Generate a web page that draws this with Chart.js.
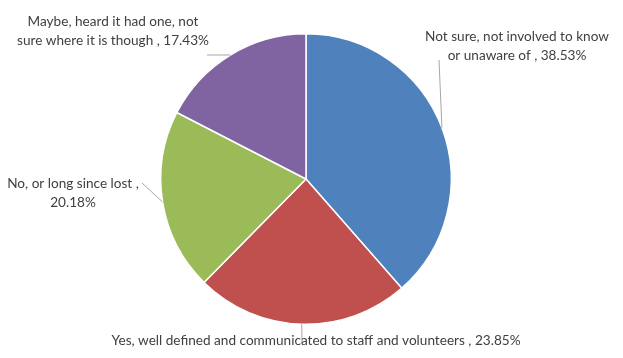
<!DOCTYPE html>
<html>
<head>
<meta charset="utf-8">
<script src="https://cdn.jsdelivr.net/npm/chart.js@4.4.1/dist/chart.umd.min.js"></script>
<style>
  html, body { margin: 0; padding: 0; background: #fff; }
  #wrap { width: 623px; height: 358px; }
</style>
</head>
<body>
<div id="wrap"><canvas id="myChart" width="623" height="358"></canvas></div>
<script>
const labels = [
  "Not sure, not involved to know or unaware of",
  "Yes, well defined and communicated to staff and volunteers",
  "No, or long since lost",
  "Maybe, heard it had one, not sure where it is though",
];
const values = [38.53, 23.85, 20.18, 17.43];
const colors = ["#4F81BD", "#C0504D", "#9BBB59", "#8064A2"];

// label text lines, split like the original
const labelLines = [
  ["Not sure, not involved to know", "or unaware of , 38.53%"],
  ["Yes, well defined and communicated to staff and volunteers , 23.85%"],
  ["No, or long since lost ,", "20.18%"],
  ["Maybe, heard it had one, not", "sure where it is though , 17.43%"],
];

// where each label sits: text centre, first line y, leader end point
const labelLayout = [
  { x: 517, y: 37, lx: 439, ly: 60 },
  { x: 316, y: 341, lx: 302, ly: 343 },
  { x: 73, y: 184, lx: 142, ly: 183 },
  { x: 113, y: 22, lx: 207, ly: 55 },
];

const labelPlugin = {
  id: "outLabels",
  afterDraw(chart) {
    const ctx = chart.ctx;
    const meta = chart.getDatasetMeta(0);
    ctx.save();
    meta.data.forEach((arc, i) => {
      const p = arc.getProps(["x", "y", "startAngle", "endAngle", "outerRadius"], true);
      const mid = (p.startAngle + p.endAngle) / 2;
      const ax = p.x + Math.cos(mid) * p.outerRadius;
      const ay = p.y + Math.sin(mid) * p.outerRadius;
      const lay = labelLayout[i];
      ctx.strokeStyle = "#A6A6A6";
      ctx.lineWidth = 1;
      ctx.beginPath();
      ctx.moveTo(ax, ay);
      ctx.lineTo(lay.lx, lay.ly);
      ctx.stroke();
    });
    ctx.fillStyle = "#404040";
    ctx.font = "13.6px Lato";
    ctx.textAlign = "center";
    ctx.textBaseline = "middle";
    labelLines.forEach((lines, i) => {
      const lay = labelLayout[i];
      lines.forEach((t, k) => ctx.fillText(t, lay.x, lay.y + k * 19));
    });
    ctx.restore();
  },
};

new Chart(document.getElementById("myChart"), {
  type: "pie",
  data: {
    labels: labels,
    datasets: [
      {
        data: values,
        backgroundColor: colors,
        borderColor: "#ffffff",
        borderWidth: 1.5,
      },
    ],
  },
  options: {
    responsive: false,
    animation: false,
    layout: { padding: { top: 33, bottom: 33, left: 0, right: 11 } },
    plugins: {
      legend: { display: false },
      tooltip: { enabled: false },
    },
  },
  plugins: [labelPlugin],
});
</script>
</body>
</html>
